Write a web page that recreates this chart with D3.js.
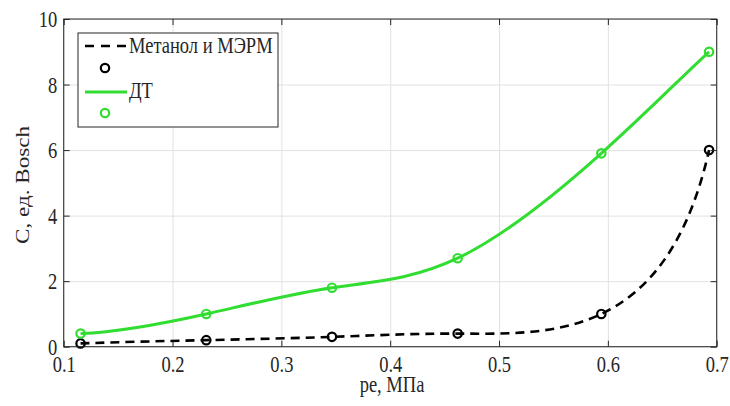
<!DOCTYPE html>
<html>
<head>
<meta charset="utf-8">
<script src="https://cdn.jsdelivr.net/npm/d3@7"></script>
<style>
  html, body { margin: 0; padding: 0; background: #fff; }
  svg { display: block; }
  text { font-family: "Liberation Serif", "Times New Roman", serif; fill: #262626; }
</style>
</head>
<body>
<svg id="chart" width="730" height="406"></svg>
<script>
// ---------- data ----------
const pressure = [0.1155, 0.231, 0.3465, 0.462, 0.594, 0.693];   // pe, MPa
const methanol = [0.1, 0.2, 0.3, 0.4, 1.0, 6.0];                // Метанол и МЭРМ
const diesel   = [0.4, 1.0, 1.8, 2.7, 5.9, 9.0];                // ДТ
const xTicks = [0.1, 0.2, 0.3, 0.4, 0.5, 0.6, 0.7];
const yTicks = [0, 2, 4, 6, 8, 10];
const seriesNames = ["Метанол и МЭРМ", "ДТ"];
const xTitle = "pe, МПа";
const yTitle = "C, ед. Bosch";

// ---------- layout ----------
const W = 730, H = 406;
const L = 63.7, R = 716.7, T = 19, B = 346.7;
const SY = 1.25;           // vertical stretch of the text in the reference
const FS = 18.5;
const axisCol = "#262626", gridCol = "#e2e2e2";
const green = "#30dd30";

const svg = d3.select("#chart");
svg.append("rect").attr("width", W).attr("height", H).attr("fill", "#fff");

const x = d3.scaleLinear().domain([0.1, 0.7]).range([L, R]);
const y = d3.scaleLinear().domain([0, 10]).range([B, T]);

// grid
svg.append("g").attr("transform", `translate(0,${B})`)
  .call(d3.axisBottom(x).tickValues(xTicks).tickSize(-(B - T)).tickFormat(""))
  .call(g => g.select(".domain").remove())
  .call(g => g.selectAll("line").attr("stroke", gridCol).attr("stroke-width", 1));
svg.append("g").attr("transform", `translate(${L},0)`)
  .call(d3.axisLeft(y).tickValues(yTicks).tickSize(-(R - L)).tickFormat(""))
  .call(g => g.select(".domain").remove())
  .call(g => g.selectAll("line").attr("stroke", gridCol).attr("stroke-width", 1));

// parametric not-a-knot cubic spline curve (uniform parameter), d3 curve factory
function solveM(t, v) {
  const n = t.length, h = [];
  for (let i = 0; i < n - 1; i++) h.push(t[i + 1] - t[i]);
  const A = Array.from({length: n}, () => new Array(n).fill(0));
  const b = new Array(n).fill(0);
  A[0][0] = h[1]; A[0][1] = -(h[0] + h[1]); A[0][2] = h[0];
  A[n - 1][n - 3] = h[n - 2]; A[n - 1][n - 2] = -(h[n - 3] + h[n - 2]); A[n - 1][n - 1] = h[n - 3];
  for (let i = 1; i < n - 1; i++) {
    A[i][i - 1] = h[i - 1]; A[i][i] = 2 * (h[i - 1] + h[i]); A[i][i + 1] = h[i];
    b[i] = 6 * ((v[i + 1] - v[i]) / h[i] - (v[i] - v[i - 1]) / h[i - 1]);
  }
  for (let c = 0; c < n; c++) {
    let p = c;
    for (let r = c + 1; r < n; r++) if (Math.abs(A[r][c]) > Math.abs(A[p][c])) p = r;
    [A[c], A[p]] = [A[p], A[c]]; [b[c], b[p]] = [b[p], b[c]];
    for (let r = c + 1; r < n; r++) {
      const f = A[r][c] / A[c][c];
      for (let k = c; k < n; k++) A[r][k] -= f * A[c][k];
      b[r] -= f * b[c];
    }
  }
  const M = new Array(n).fill(0);
  for (let r = n - 1; r >= 0; r--) {
    let s = b[r];
    for (let k = r + 1; k < n; k++) s -= A[r][k] * M[k];
    M[r] = s / A[r][r];
  }
  return {M, h};
}
function segSlopes(v, S, i) {
  const {M, h} = S;
  const d = (v[i + 1] - v[i]) / h[i];
  return [d - h[i] * (2 * M[i] + M[i + 1]) / 6, d + h[i] * (M[i] + 2 * M[i + 1]) / 6];
}
function curveSpline(context) {
  let xs, ys;
  return {
    areaStart() {}, areaEnd() {},
    lineStart() { xs = []; ys = []; },
    point(px, py) { xs.push(+px); ys.push(+py); },
    lineEnd() {
      const n = xs.length;
      if (!n) return;
      context.moveTo(xs[0], ys[0]);
      if (n < 4) { for (let i = 1; i < n; i++) context.lineTo(xs[i], ys[i]); return; }
      const t = xs.map((_, i) => i);
      const SX = solveM(t, xs), SYs = solveM(t, ys);
      for (let i = 0; i < n - 1; i++) {
        const k = 1 / 3;
        const [ax0, ax1] = segSlopes(xs, SX, i);
        const [ay0, ay1] = segSlopes(ys, SYs, i);
        context.bezierCurveTo(xs[i] + ax0 * k, ys[i] + ay0 * k,
                              xs[i + 1] - ax1 * k, ys[i + 1] - ay1 * k,
                              xs[i + 1], ys[i + 1]);
      }
    }
  };
}

const methPts = pressure.map((p, i) => [p, methanol[i]]);
const dieselPts = pressure.map((p, i) => [p, diesel[i]]);
const line = d3.line().x(d => x(d[0])).y(d => y(d[1])).curve(curveSpline);

svg.append("path").datum(methPts).attr("d", line)
  .attr("fill", "none").attr("stroke", "#000").attr("stroke-width", 2.6).attr("stroke-dasharray", "9,6");
svg.append("path").datum(dieselPts).attr("d", line)
  .attr("fill", "none").attr("stroke", green).attr("stroke-width", 3);

const MR = 4.2, MW = 2.2;
svg.append("g").selectAll("circle").data(methPts).join("circle")
  .attr("cx", d => x(d[0])).attr("cy", d => y(d[1])).attr("r", MR)
  .attr("fill", "none").attr("stroke", "#000").attr("stroke-width", MW);
svg.append("g").selectAll("circle").data(dieselPts).join("circle")
  .attr("cx", d => x(d[0])).attr("cy", d => y(d[1])).attr("r", MR)
  .attr("fill", "none").attr("stroke", green).attr("stroke-width", MW);

// axes (ticks inward)
const tk = 6;
svg.append("g").attr("transform", `translate(0,${B})`)
  .call(d3.axisBottom(x).tickValues(xTicks).tickSizeInner(-tk).tickSizeOuter(0).tickFormat(d3.format(".1f")))
  .call(g => g.select(".domain").remove())
  .call(g => g.selectAll("line").attr("stroke", axisCol))
  .call(g => g.selectAll("text").attr("y", 25.5 / SY).attr("dy", null)
    .attr("transform", `scale(1,${SY})`).attr("font-size", FS).attr("fill", axisCol)
    .style("font-family", "Liberation Serif"));
svg.append("g").attr("transform", `translate(${L},0)`)
  .call(d3.axisLeft(y).tickValues(yTicks).tickSizeInner(-tk).tickSizeOuter(0).tickFormat(d3.format("d")))
  .call(g => g.select(".domain").remove())
  .call(g => g.selectAll("line").attr("stroke", axisCol))
  .call(g => g.selectAll("text").attr("x", -6.5).attr("dy", "0.33em")
    .attr("transform", `scale(1,${SY})`).attr("font-size", FS).attr("fill", axisCol)
    .style("font-family", "Liberation Serif"));
svg.append("g").attr("transform", `translate(0,${T})`)
  .call(d3.axisTop(x).tickValues(xTicks).tickSizeInner(-tk).tickSizeOuter(0).tickFormat(""))
  .call(g => g.select(".domain").remove())
  .call(g => g.selectAll("line").attr("stroke", axisCol));
svg.append("g").attr("transform", `translate(${R},0)`)
  .call(d3.axisRight(y).tickValues(yTicks).tickSizeInner(-tk).tickSizeOuter(0).tickFormat(""))
  .call(g => g.select(".domain").remove())
  .call(g => g.selectAll("line").attr("stroke", axisCol));

svg.append("rect").attr("x", L).attr("y", T).attr("width", R - L).attr("height", B - T)
  .attr("fill", "none").attr("stroke", axisCol).attr("stroke-width", 1);

// axis titles
svg.append("text").attr("transform", `translate(392,392) scale(1,${SY})`)
  .attr("text-anchor", "middle").attr("font-size", FS).text(xTitle);
svg.append("text").attr("transform", `translate(28.5,185) scale(1,${SY}) rotate(-90)`)
  .attr("text-anchor", "middle").attr("font-size", FS).text(yTitle);

// legend
const lg = svg.append("g");
lg.append("rect").attr("x", 78).attr("y", 33).attr("width", 200).attr("height", 94)
  .attr("fill", "#fff").attr("stroke", axisCol).attr("stroke-width", 1);
lg.append("line").attr("x1", 85).attr("x2", 127).attr("y1", 46).attr("y2", 46)
  .attr("stroke", "#000").attr("stroke-width", 2.6).attr("stroke-dasharray", "9,7");
lg.append("circle").attr("cx", 105).attr("cy", 68).attr("r", MR)
  .attr("fill", "none").attr("stroke", "#000").attr("stroke-width", MW);
lg.append("line").attr("x1", 85).attr("x2", 127).attr("y1", 92).attr("y2", 92)
  .attr("stroke", green).attr("stroke-width", 3);
lg.append("circle").attr("cx", 105).attr("cy", 113).attr("r", MR)
  .attr("fill", "none").attr("stroke", green).attr("stroke-width", MW);
lg.append("text").attr("transform", `translate(129,52.5) scale(1,${SY})`)
  .attr("font-size", FS).attr("fill", "#000").text(seriesNames[0]);
lg.append("text").attr("transform", `translate(129,97.5) scale(1,${SY})`)
  .attr("font-size", FS).attr("fill", "#000").text(seriesNames[1]);
</script>
</body>
</html>
